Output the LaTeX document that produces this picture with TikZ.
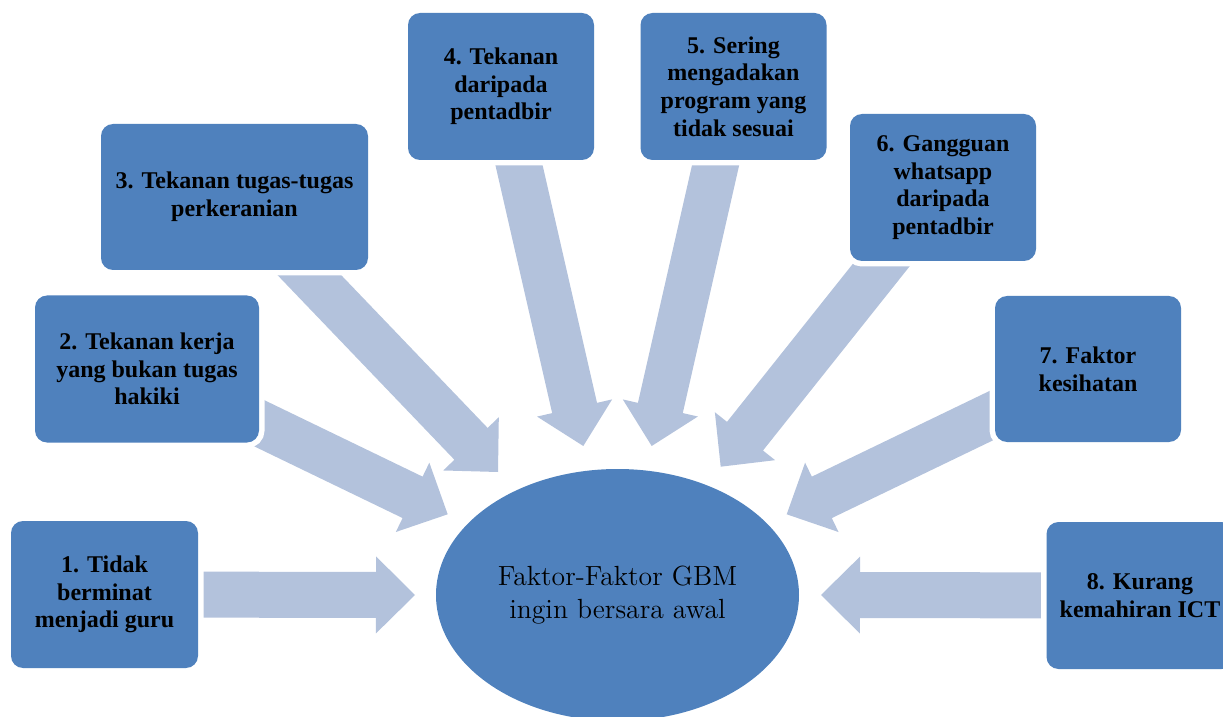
\documentclass[tikz,border=0pt]{standalone}
\usepackage{fontspec}
\newfontfamily\tnr{Liberation Serif}
\usetikzlibrary{shapes.geometric,calc,backgrounds}
\definecolor{boxblue}{HTML}{4F81BD}
\definecolor{arrowblue}{HTML}{B3C2DC}
\tikzset{
  factor/.style={rectangle, rounded corners=6pt, fill=boxblue,
    preaction={draw=white, line width=5.5pt},
    inner sep=0pt, align=center, text=black,
    font=\tnr\bfseries\fontsize{12pt}{13.8pt}\selectfont},
  centre/.style={ellipse, fill=boxblue, inner sep=0pt,
    minimum width=181.5pt, minimum height=126pt, align=center, text=black,
    font=\fontsize{13.85pt}{16.5pt}\selectfont},
  arrowfill/.style={fill=arrowblue},
}
% block arrow from tail point #1 to tip point #2
\newcommand\blockarrow[2]{%
  \coordinate (ah) at ($(#2)!19.5pt!(#1)$);
  \fill[arrowfill] ($(#1)!11.5pt!90:(#2)$) -- ($(ah)!11.5pt!90:(#2)$)
    -- ($(ah)!19.25pt!90:(#2)$) -- (#2) -- ($(ah)!19.25pt!-90:(#2)$)
    -- ($(ah)!11.5pt!-90:(#2)$) -- ($(#1)!11.5pt!-90:(#2)$) -- cycle;}
\begin{document}
\begin{tikzpicture}[x=0.5pt, y=-0.5pt]
\useasboundingbox (0,0) rectangle (1223,717);
\clip (0,0) rectangle (1223,717);

\node[factor, minimum width=93.5pt, minimum height=73.5pt] (b1) at (104.5,594.5) {1. Tidak\\berminat\\menjadi guru};
\node[factor, minimum width=112pt, minimum height=73.5pt] (b2) at (147,369) {2. Tekanan kerja\\yang bukan tugas\\hakiki};
\node[factor, minimum width=133.5pt, minimum height=73pt] (b3) at (234.5,197) {3. Tekanan tugas-tugas\\perkeranian};
\node[factor, minimum width=93pt, minimum height=73.5pt] (b4) at (501,86.5) {4. Tekanan\\daripada\\pentadbir};
\node[factor, minimum width=93pt, minimum height=73.5pt] (b5) at (733.5,86.5) {5. Sering\\mengadakan\\program yang\\tidak sesuai};
\node[factor, minimum width=93pt, minimum height=73.5pt] (b6) at (943,187.5) {6. Gangguan\\whatsapp\\daripada\\pentadbir};
\node[factor, minimum width=93pt, minimum height=73pt] (b7) at (1088,369) {7. Faktor\\kesihatan};
\node[factor, minimum width=93.5pt, minimum height=73.5pt] (b8) at (1140,595.5) {8. Kurang\\kemahiran ICT};

\node[centre] (c) at (617.5,595) {Faktor-Faktor GBM\\ingin bersara awal};

\coordinate (t1) at (415,595);
\coordinate (t2) at (447.7,514.3);
\coordinate (t3) at (498,472);
\coordinate (t4) at (583.3,446);
\coordinate (t5) at (651.7,446);
\coordinate (t6) at (720.7,466.7);
\coordinate (t7) at (786.7,514.3);
\coordinate (t8) at (821,595);

\begin{pgfonlayer}{background}
\blockarrow{b1.center}{t1}
\blockarrow{b2.center}{t2}
\blockarrow{b3.center}{t3}
\blockarrow{b4.center}{t4}
\blockarrow{b5.center}{t5}
\blockarrow{b6.center}{t6}
\blockarrow{b7.center}{t7}
\blockarrow{b8.center}{t8}
\end{pgfonlayer}
\end{tikzpicture}
\end{document}
